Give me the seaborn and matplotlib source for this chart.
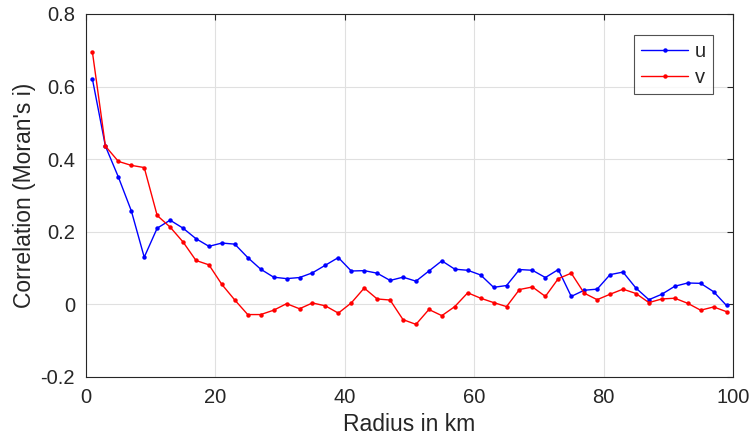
import numpy as np
import pandas as pd
import matplotlib
matplotlib.use("Agg")
import matplotlib.pyplot as plt
import seaborn as sns

radius = list(range(1, 100, 2))
u_vals = [0.620, 0.436, 0.351, 0.258, 0.130, 0.210, 0.232, 0.210, 0.181, 0.160,
          0.169, 0.166, 0.129, 0.097, 0.075, 0.071, 0.074, 0.087, 0.108, 0.129,
          0.092, 0.093, 0.086, 0.066, 0.075, 0.064, 0.092, 0.120, 0.097, 0.094,
          0.081, 0.047, 0.052, 0.096, 0.094, 0.074, 0.096, 0.022, 0.039, 0.042,
          0.082, 0.089, 0.045, 0.013, 0.028, 0.050, 0.059, 0.058, 0.035, -0.003]
v_vals = [0.694, 0.436, 0.394, 0.383, 0.377, 0.245, 0.213, 0.172, 0.121, 0.109,
          0.055, 0.012, -0.028, -0.028, -0.016, 0.002, -0.012, 0.004, -0.004, -0.024,
          0.004, 0.045, 0.015, 0.012, -0.042, -0.055, -0.014, -0.031, -0.006, 0.032,
          0.017, 0.005, -0.006, 0.041, 0.048, 0.022, 0.071, 0.086, 0.031, 0.013,
          0.028, 0.042, 0.030, 0.005, 0.015, 0.017, 0.003, -0.016, -0.007, -0.020]
series_names = ["u", "v"]
series_colors = ["#0000ff", "#ff0000"]
x_ticks = [0, 20, 40, 60, 80, 100]
y_ticks = [-0.2, 0, 0.2, 0.4, 0.6, 0.8]
y_tick_labels = ["-0.2", "0", "0.2", "0.4", "0.6", "0.8"]

df = pd.DataFrame({
    "Radius": radius * 2,
    "Correlation": u_vals + v_vals,
    "series": [series_names[0]] * len(radius) + [series_names[1]] * len(radius),
})

sns.set_theme(style="white")
plt.rcParams["font.family"] = ["Liberation Sans", "DejaVu Sans"]

fig = plt.figure(figsize=(7.54, 4.42), dpi=100)
ax = fig.add_axes([86 / 754, 1 - 377 / 442, (733 - 86) / 754, (377 - 14) / 442])

sns.lineplot(data=df, x="Radius", y="Correlation", hue="series",
             palette=dict(zip(series_names, series_colors)),
             marker="o", markersize=3.2, markeredgewidth=0, linewidth=1.0,
             ax=ax)

ax.set_xlim(0, 100)
ax.set_ylim(-0.2, 0.8)
ax.set_xticks(x_ticks)
ax.set_xticklabels([str(t) for t in x_ticks])
ax.set_yticks(y_ticks)
ax.set_yticklabels(y_tick_labels)
ax.grid(True, color="#e0e0e0", linewidth=0.8)
ax.set_axisbelow(True)
for s in ax.spines.values():
    s.set_color("#262626")
    s.set_linewidth(0.8)
ax.tick_params(direction="in", length=4, width=0.8, colors="#262626",
               labelsize=14.5, top=True, right=True, labelcolor="#262626")
ax.tick_params(axis="x", pad=8)
ax.tick_params(axis="y", pad=8)
ax.set_xlabel("Radius in km", fontsize=16.5, color="#262626", labelpad=4)
ax.set_ylabel("Correlation (Moran's i)", fontsize=16.5, color="#262626", labelpad=3)

leg = ax.legend(loc="upper right", bbox_to_anchor=(0.969, 0.942), borderaxespad=0,
                frameon=True, fancybox=False, fontsize=14.5, handlelength=2.3,
                borderpad=0.35, labelspacing=0.35, handletextpad=0.35)
leg.get_frame().set_edgecolor("#262626")
leg.get_frame().set_linewidth(0.8)
leg.set_title(None)

fig.savefig("out.png", dpi=100)
